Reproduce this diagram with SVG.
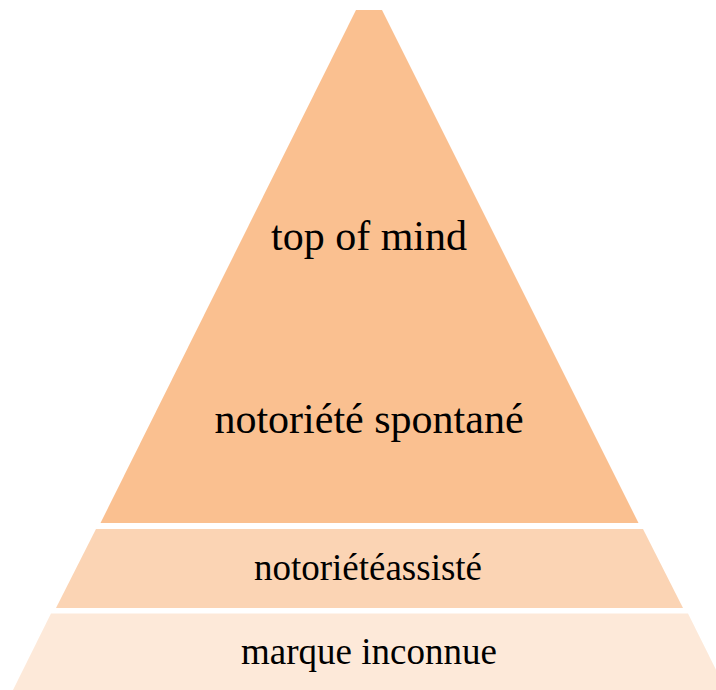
<svg xmlns="http://www.w3.org/2000/svg" width="716" height="690" viewBox="0 0 716 690">
  <style>
    .lbl { font-family: "Liberation Serif", "Times New Roman", serif; fill: #000; text-anchor: middle; }
    .big { font-size: 42px; }
    .small { font-size: 37px; }
  </style>
  <rect width="716" height="690" fill="#FFFFFF"/>
  <!-- top tier: spontaneous awareness / top of mind -->
  <g id="tier-top">
    <polygon points="356,10 382,10 638.5,523 100.5,523" fill="#FAC090"/>
    <text class="lbl big" x="369" y="250">top of mind</text>
    <text class="lbl big" x="369" y="433">notoriété spontané</text>
  </g>
  <!-- middle tier: aided awareness -->
  <g id="tier-aided">
    <polygon points="96,529 643,529 683,608 56,608" fill="#FBD4B4"/>
    <text class="lbl small" x="368" y="580">notoriétéassisté</text>
  </g>
  <!-- base tier: unknown brand -->
  <g id="tier-unknown">
    <polygon points="51,613.5 688,613.5 726,690 13,690" fill="#FDE9D9"/>
    <text class="lbl small" x="369" y="664">marque inconnue</text>
  </g>
  <g id="connectors"/>
</svg>
